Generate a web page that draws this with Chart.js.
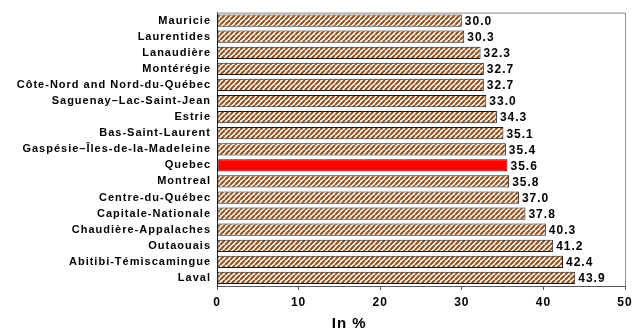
<!doctype html>
<html lang="en">
<head>
<meta charset="utf-8">
<title>Regions of Quebec</title>
<script src="https://cdn.jsdelivr.net/npm/chart.js@4/dist/chart.umd.min.js"></script>
<style>
  html, body { margin: 0; padding: 0; background: #fff; }
  #wrap { width: 637px; height: 332px; }
</style>
</head>
<body>
<div id="wrap"><canvas id="chart"></canvas></div>
<script>
  const regions = [
    'Mauricie', 'Laurentides', 'Lanaudière', 'Montérégie',
    'Côte-Nord and Nord-du-Québec', 'Saguenay–Lac-Saint-Jean', 'Estrie',
    'Bas-Saint-Laurent', 'Gaspésie–Îles-de-la-Madeleine', 'Quebec', 'Montreal',
    'Centre-du-Québec', 'Capitale-Nationale', 'Chaudière-Appalaches',
    'Outaouais', 'Abitibi-Témiscamingue', 'Laval'
  ];
  const percents = [30.0, 30.3, 32.3, 32.7, 32.7, 33.0, 34.3, 35.1, 35.4, 35.6, 35.8, 37.0, 37.8, 40.3, 41.2, 42.4, 43.9];
  const highlight = 'Quebec';
  const xTicks = [0, 10, 20, 30, 40, 50];
  const axisTitle = 'In %';

  // brown upward diagonal hatch
  function hatch() {
    const c = document.createElement('canvas');
    c.width = 5; c.height = 5;
    const g = c.getContext('2d');
    g.fillStyle = '#ffffff';
    g.fillRect(0, 0, 5, 5);
    g.strokeStyle = '#94531f';
    g.lineWidth = 2.2;
    g.beginPath();
    for (let k = -5; k <= 10; k += 5) {
      g.moveTo(k, 5);
      g.lineTo(k + 5, 0);
    }
    g.stroke();
    return g.createPattern(c, 'repeat');
  }
  const stripes = hatch();

  // wide-tracked text like the original spreadsheet output
  const spacing = {
    id: 'spacing',
    beforeDraw(chart) { chart.ctx.letterSpacing = '1px'; }
  };

  const valueLabels = {
    id: 'valueLabels',
    afterDatasetsDraw(chart) {
      const ctx = chart.ctx;
      const meta = chart.getDatasetMeta(0);
      ctx.save();
      ctx.font = 'bold 12px "Liberation Sans", Arial, sans-serif';
      ctx.fillStyle = '#000';
      ctx.textBaseline = 'middle';
      meta.data.forEach((bar, i) => {
        ctx.fillText(percents[i].toFixed(1), bar.x + 3, bar.y + 1);
      });
      ctx.restore();
    }
  };

  const frame = {
    id: 'frame',
    beforeDatasetsDraw(chart) {
      const a = chart.chartArea;
      const ctx = chart.ctx;
      ctx.save();
      ctx.strokeStyle = '#8c8c8c';
      ctx.lineWidth = 1;
      ctx.beginPath();
      ctx.moveTo(a.left, a.top + 0.5);
      ctx.lineTo(a.right + 0.5, a.top + 0.5);
      ctx.lineTo(a.right + 0.5, a.bottom);
      ctx.stroke();
      ctx.restore();
    },
    afterDraw(chart) {
      const ctx = chart.ctx;
      ctx.save();
      ctx.font = 'bold 15px "Liberation Sans", Arial, sans-serif';
      ctx.fillStyle = '#000';
      ctx.textAlign = 'center';
      ctx.textBaseline = 'alphabetic';
      ctx.fillText(axisTitle, chart.scales.x.getPixelForValue(16.2), 328);
      ctx.restore();
    }
  };

  new Chart(document.getElementById('chart'), {
    type: 'bar',
    data: {
      labels: regions,
      datasets: [{
        data: percents,
        backgroundColor: regions.map(r => r === highlight ? '#ff0000' : stripes),
        borderColor: '#1a1a1a',
        borderWidth: 1,
        borderSkipped: false,
        barPercentage: 0.76,
        categoryPercentage: 1
      }]
    },
    options: {
      indexAxis: 'y',
      responsive: true,
      maintainAspectRatio: false,
      animation: false,
      layout: { padding: { top: 5, right: 12, left: 0, bottom: 0 } },
      plugins: { legend: { display: false }, tooltip: { enabled: false } },
      scales: {
        x: {
          min: 0, max: 50,
          afterBuildTicks(s) { s.ticks = xTicks.map(v => ({ value: v })); },
          afterFit(s) { s.height = 46; },
          grid: { drawOnChartArea: false, drawTicks: true, tickLength: 4, color: '#555' },
          border: { color: '#555', width: 1 },
          ticks: {
            color: '#000',
            padding: 5,
            font: { family: '"Liberation Sans", Arial, sans-serif', size: 12, weight: 'bold' }
          }
        },
        y: {
          afterFit(s) { s.width = 217; },
          grid: { display: false, drawTicks: false },
          border: { color: '#222', width: 1 },
          ticks: {
            color: '#000',
            padding: 6,
            autoSkip: false,
            font: { family: '"Liberation Sans", Arial, sans-serif', size: 11, weight: 'bold' }
          }
        }
      }
    },
    plugins: [spacing, valueLabels, frame]
  });
</script>
</body>
</html>
